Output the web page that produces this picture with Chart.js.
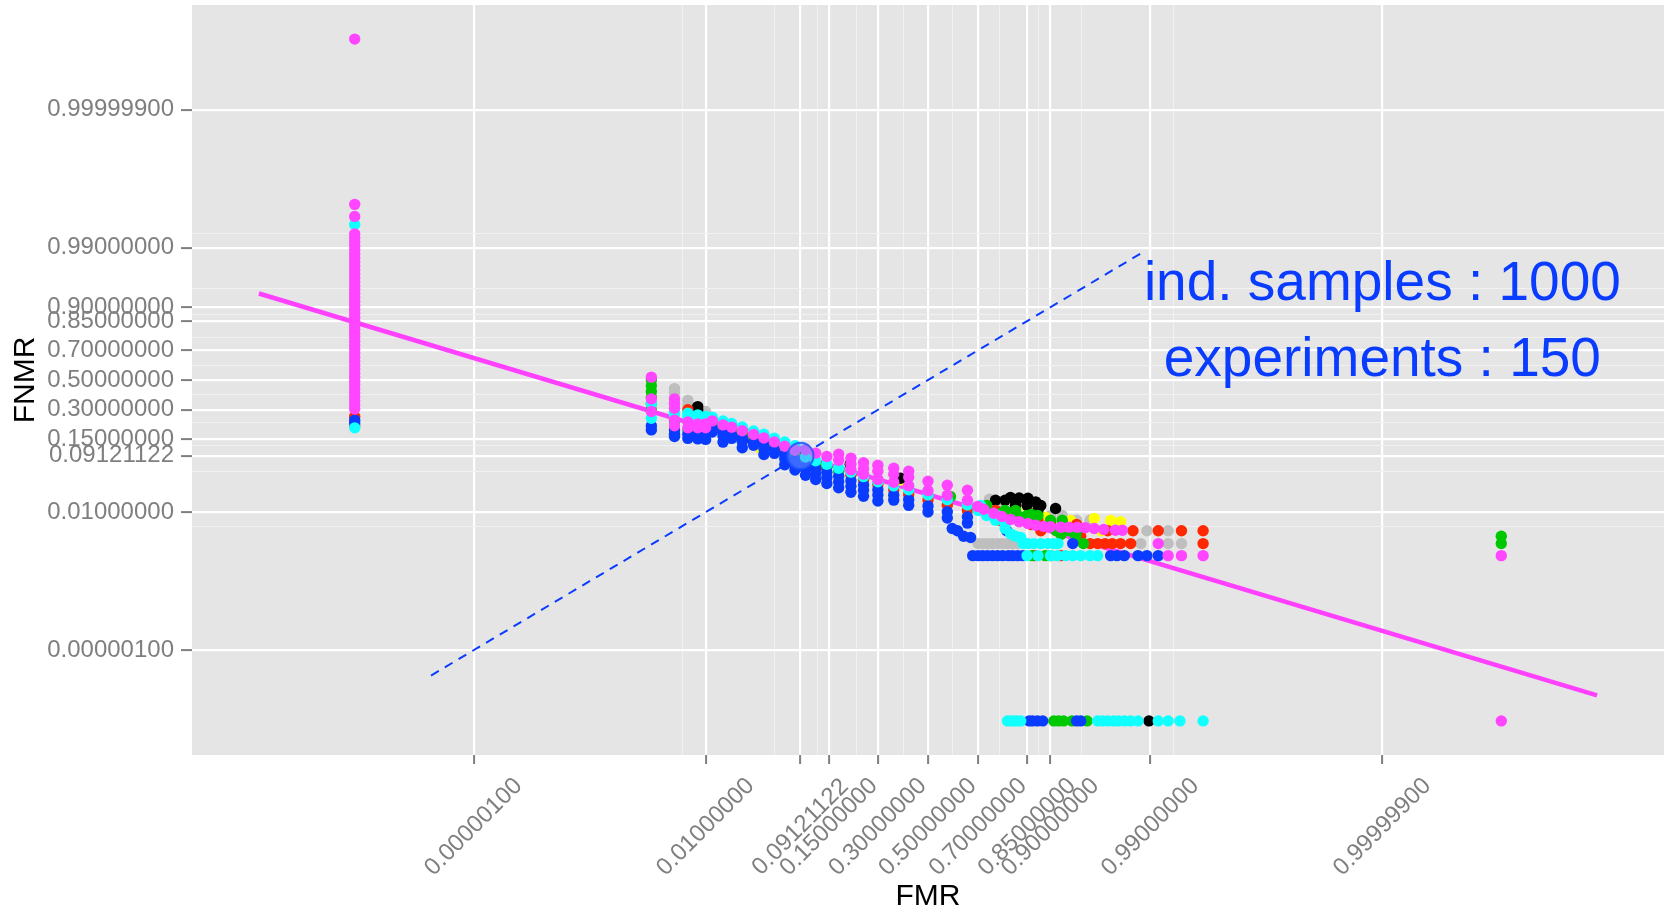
<!DOCTYPE html>
<html>
<head>
<meta charset="utf-8">
<title>DET curve</title>
<script src="https://cdn.jsdelivr.net/npm/chart.js@4.4.1/dist/chart.umd.min.js"></script>
<style>
  body { margin: 0; background: #fff; }
  canvas { display: block; }
</style>
</head>
<body>
<canvas id="det" width="1669" height="911"></canvas>
<script>
// breaks used on both axes, as probabilities
const breaks = [0.000001, 0.01, 0.09121122, 0.15, 0.3, 0.5, 0.7, 0.85, 0.9, 0.99, 0.999999];
// minor grid lines, given on the probit scale
const minorBreaks = [-2.57, -1.61, -1.16, -0.75, -0.26, 0.26, 0.75, 1.16, 1.61, 2.57];

const eer = 0.09121122;
const indSamples = 1000;
const experiments = 150;

// [FMR, FNMR] pairs, one array per colour
const magenta = [
  [0, 1], [0, 0.999], [0, 0.998],
  [0, 0.9949], [0, 0.9938], [0, 0.9925], [0, 0.9909], [0, 0.989], [0, 0.9868], [0, 0.9842],
  [0, 0.9812], [0, 0.9778], [0, 0.9738], [0, 0.9693], [0, 0.9641], [0, 0.9582], [0, 0.9515],
  [0, 0.9441], [0, 0.9357], [0, 0.9265], [0, 0.9162], [0, 0.9049], [0, 0.8925], [0, 0.879],
  [0, 0.8643], [0, 0.8485], [0, 0.8315], [0, 0.8133], [0, 0.7939], [0, 0.7734], [0, 0.7517],
  [0, 0.7291], [0, 0.7054], [0, 0.6808], [0, 0.6554], [0, 0.6293], [0, 0.6026], [0, 0.5753],
  [0, 0.5478], [0, 0.5199], [0, 0.492], [0, 0.4641], [0, 0.4364], [0, 0.409], [0, 0.3821],
  [0, 0.3557], [0, 0.33], [0, 0.305],
  [0.0019, 0.52], [0.0019, 0.37], [0.0019, 0.29], [0.004, 0.37], [0.004, 0.34], [0.004, 0.31],
  [0.004, 0.24], [0.004, 0.21], [0.006, 0.23], [0.006, 0.2], [0.008, 0.22], [0.008, 0.2],
  [0.01, 0.22], [0.01, 0.2],
  [0.012, 0.236], [0.016, 0.215], [0.02, 0.203], [0.026, 0.186], [0.034, 0.169], [0.043, 0.154],
  [0.054, 0.138], [0.067, 0.1218], [0.082, 0.1082],
  [0.1, 0.1098], [0.12, 0.099], [0.145, 0.089], [0.175, 0.0791], [0.21, 0.0695], [0.25, 0.0593],
  [0.3, 0.0542], [0.36, 0.0487], [0.42, 0.0436], [0.5, 0.0375], [0.58, 0.032], [0.66, 0.0262],
  [0.175, 0.0959], [0.21, 0.0847], [0.25, 0.0726], [0.3, 0.0669], [0.36, 0.0603], [0.42, 0.0542],
  [0.21, 0.0574], [0.25, 0.0489], [0.3, 0.0402], [0.36, 0.036], [0.42, 0.0313], [0.5, 0.0258],
  [0.58, 0.0213], [0.66, 0.0172],
  [0.698, 0.0131], [0.72, 0.0115], [0.754, 0.0095], [0.78, 0.0082], [0.806, 0.0071], [0.83, 0.0063],
  [0.852, 0.0058], [0.87, 0.0053], [0.887, 0.005], [0.9, 0.0049], [0.918, 0.0048], [0.93, 0.0048],
  [0.941, 0.0048], [0.95, 0.0047], [0.959, 0.0045], [0.967, 0.0043], [0.975, 0.0041], [0.979, 0.0041],
  [0.992, 0.002], [0.994, 0.001], [0.996, 0.001], [0.998, 0.001], [1, 0.001], [1, 0]
];
const cyan = [
  [0, 0.9969], [0, 0.2],
  [0.0019, 0.34], [0.0019, 0.25], [0.004, 0.29], [0.004, 0.27], [0.006, 0.28], [0.006, 0.26],
  [0.008, 0.27], [0.008, 0.24], [0.01, 0.26], [0.01, 0.24],
  [0.012, 0.257], [0.016, 0.235], [0.02, 0.222], [0.026, 0.204], [0.034, 0.185], [0.043, 0.17],
  [0.054, 0.153], [0.067, 0.1375], [0.082, 0.1237],
  [0.1, 0.0878], [0.12, 0.0777], [0.145, 0.069], [0.175, 0.0604], [0.21, 0.0523], [0.25, 0.0445],
  [0.3, 0.0366], [0.36, 0.0312], [0.42, 0.0267], [0.5, 0.0216], [0.58, 0.0175], [0.66, 0.014],
  [0.7, 0.0109], [0.73, 0.0086], [0.76, 0.0068], [0.79, 0.0055],
  [0.709, 0.0136], [0.767, 0.0085], [0.79, 0.0045], [0.806, 0.0034], [0.82, 0.003], [0.834, 0.0028],
  [0.84, 0.002], [0.852, 0.002], [0.866, 0.002], [0.881, 0.002], [0.895, 0.002], [0.905, 0.002],
  [0.913, 0.002],
  [0.85, 0.001], [0.875, 0.001], [0.9, 0.001], [0.912, 0.001], [0.925, 0.001], [0.935, 0.001],
  [0.945, 0.001], [0.955, 0.001], [0.962, 0.001],
  [0.797, 0], [0.806, 0], [0.815, 0], [0.825, 0], [0.834, 0], [0.962, 0], [0.966, 0], [0.97, 0],
  [0.974, 0], [0.977, 0], [0.98, 0], [0.983, 0], [0.986, 0], [0.992, 0], [0.994, 0], [0.9958, 0],
  [0.998, 0]
];
const blue = [
  [0, 0.24], [0, 0.225],
  [0.0019, 0.21], [0.0019, 0.19], [0.004, 0.19], [0.004, 0.17], [0.004, 0.16], [0.006, 0.17],
  [0.006, 0.152], [0.008, 0.17], [0.008, 0.15], [0.01, 0.17], [0.01, 0.148],
  [0.012, 0.197], [0.016, 0.178], [0.02, 0.167], [0.026, 0.153], [0.034, 0.139], [0.043, 0.1266],
  [0.054, 0.1105], [0.067, 0.0948], [0.082, 0.0812], [0.1, 0.0688], [0.12, 0.0599], [0.145, 0.0523],
  [0.175, 0.045], [0.21, 0.0383], [0.25, 0.0325], [0.3, 0.0267], [0.36, 0.0214], [0.42, 0.0175],
  [0.5, 0.0133], [0.58, 0.0102], [0.66, 0.008],
  [0.012, 0.18], [0.016, 0.162], [0.02, 0.152], [0.026, 0.139], [0.034, 0.1255], [0.043, 0.1141],
  [0.054, 0.0984], [0.067, 0.0832], [0.082, 0.07], [0.1, 0.0582], [0.12, 0.0499], [0.145, 0.0433],
  [0.175, 0.0367], [0.21, 0.0309], [0.25, 0.0262], [0.3, 0.0215], [0.36, 0.0173], [0.42, 0.0137],
  [0.5, 0.0101], [0.58, 0.0076], [0.66, 0.0059],
  [0.016, 0.1372], [0.026, 0.1166], [0.043, 0.0951], [0.067, 0.0681], [0.082, 0.0568], [0.1, 0.047],
  [0.12, 0.04], [0.145, 0.0344], [0.175, 0.029], [0.21, 0.0242], [0.25, 0.0204], [0.3, 0.0166],
  [0.6, 0.0045], [0.621, 0.004], [0.645, 0.003], [0.672, 0.0028],
  [0.68, 0.001], [0.7, 0.001], [0.716, 0.001], [0.733, 0.001], [0.75, 0.001], [0.767, 0.001],
  [0.783, 0.001], [0.8, 0.001], [0.812, 0.001], [0.826, 0.001], [0.839, 0.001], [0.972, 0.001],
  [0.976, 0.001], [0.98, 0.001], [0.986, 0.001], [0.989, 0.001], [0.992, 0.001],
  [0.795, 0.004], [0.935, 0.002],
  [0.855, 0], [0.863, 0], [0.874, 0], [0.885, 0], [0.94, 0], [0.945, 0]
];
const green = [
  [0.0019, 0.5], [0.0019, 0.46], [0.0019, 0.42], [0.0019, 0.38], [0.0019, 0.34], [0.0019, 0.3],
  [0.004, 0.23], [0.006, 0.19],
  [0.012, 0.216], [0.016, 0.196], [0.02, 0.184], [0.026, 0.169], [0.034, 0.153], [0.043, 0.14],
  [0.054, 0.1237], [0.067, 0.1078], [0.082, 0.0939], [0.1, 0.081], [0.12, 0.0711], [0.145, 0.0629],
  [0.175, 0.0547],
  [0.593, 0.0202], [0.727, 0.0131], [0.776, 0.0094], [0.834, 0.008], [0.86, 0.009], [0.918, 0.0033],
  [0.939, 0.003], [0.948, 0.002],
  [0.73, 0.0137], [0.79, 0.0109], [0.82, 0.0109], [0.85, 0.0086], [0.875, 0.0086], [0.9, 0.0068],
  [0.92, 0.0068],
  [0.91, 0.004], [0.92, 0.004], [0.93, 0.004], [0.94, 0.004],
  [0.862, 0.001], [0.89, 0.001], [0.9, 0.001],
  [0.906, 0], [0.914, 0], [0.922, 0], [0.934, 0], [0.952, 0],
  [1, 0.003], [1, 0.002]
];
const red = [
  [0, 0.26], [0, 0.21], [0.006, 0.3],
  [0.014, 0.215], [0.03, 0.17], [0.14, 0.066],
  [0.21, 0.0471], [0.25, 0.04], [0.3, 0.0329], [0.36, 0.0264], [0.42, 0.022], [0.5, 0.0173],
  [0.58, 0.0137], [0.66, 0.0108],
  [0.73, 0.0109], [0.76, 0.0109], [0.79, 0.0086], [0.875, 0.0068], [0.94, 0.0055],
  [0.776, 0.0067], [0.86, 0.0055], [0.881, 0.004], [0.9, 0.006], [0.945, 0.003], [0.97, 0.004],
  [0.984, 0.004], [0.992, 0.004], [0.996, 0.004], [0.998, 0.004],
  [0.955, 0.002], [0.962, 0.002], [0.968, 0.002], [0.973, 0.002], [0.978, 0.002], [0.983, 0.002],
  [0.998, 0.002],
  [0.868, 0.001], [0.918, 0.001]
];
const black = [
  [0.008, 0.32], [0.008, 0.3],
  [0.031, 0.157], [0.091, 0.102], [0.208, 0.069], [0.387, 0.042],
  [0.76, 0.0172], [0.79, 0.0172], [0.806, 0.0194], [0.82, 0.0137], [0.83, 0.019], [0.852, 0.0188],
  [0.85, 0.0137], [0.87, 0.016], [0.875, 0.0109], [0.881, 0.0136], [0.909, 0.0119],
  [0.9896, 0]
];
const yellow = [
  [0.04, 0.115], [0.387, 0.039], [0.85, 0.013], [0.891, 0.0078], [0.932, 0.0067], [0.959, 0.0074],
  [0.972, 0.0067], [0.978, 0.0063], [0.965, 0.004]
];
const grey = [
  [0.004, 0.44], [0.004, 0.41], [0.006, 0.36], [0.006, 0.33], [0.01, 0.29],
  [0.04, 0.145], [0.208, 0.056], [0.74, 0.018], [0.776, 0.0136], [0.82, 0.012], [0.86, 0.011],
  [0.76, 0.0137], [0.9, 0.0086], [0.92, 0.0086], [0.94, 0.0068], [0.955, 0.0068],
  [0.918, 0.0067], [0.941, 0.0048],
  [0.7, 0.002], [0.717, 0.002], [0.734, 0.002], [0.75, 0.002], [0.767, 0.002], [0.782, 0.002],
  [0.797, 0.002], [0.812, 0.002], [0.826, 0.002], [0.987, 0.002], [0.994, 0.002], [0.996, 0.002],
  [0.989, 0.004], [0.994, 0.004]
];

// fitted line and the FMR = FNMR diagonal
const fitFmr = [1.28e-12, 0.99999999999872];
const fitFnmr = [0.936, 1.43e-8];
const diagRate = [1e-7, 0.988];

// inverse normal CDF (Acklam)
function qnorm(p) {
  const a = [-3.969683028665376e+01, 2.209460984245205e+02, -2.759285104469687e+02,
             1.383577518672690e+02, -3.066479806614716e+01, 2.506628277459239e+00];
  const b = [-5.447609879822406e+01, 1.615858368580409e+02, -1.556989798598866e+02,
             6.680131188771972e+01, -1.328068155288572e+01];
  const c = [-7.784894002430293e-03, -3.223964580411365e-01, -2.400758277161838e+00,
             -2.549732539343734e+00, 4.374664141464968e+00, 2.938163982698783e+00];
  const d = [7.784695709041462e-03, 3.224671290700398e-01, 2.445134137142996e+00,
             3.754408661907416e+00];
  const plow = 0.02425;
  if (p < plow) {
    const q = Math.sqrt(-2 * Math.log(p));
    return (((((c[0]*q + c[1])*q + c[2])*q + c[3])*q + c[4])*q + c[5]) /
           ((((d[0]*q + d[1])*q + d[2])*q + d[3])*q + 1);
  }
  if (p > 1 - plow) {
    const q = Math.sqrt(-2 * Math.log(1 - p));
    return -(((((c[0]*q + c[1])*q + c[2])*q + c[3])*q + c[4])*q + c[5]) /
            ((((d[0]*q + d[1])*q + d[2])*q + d[3])*q + 1);
  }
  const q = p - 0.5, r = q * q;
  return (((((a[0]*r + a[1])*r + a[2])*r + a[3])*r + a[4])*r + a[5]) * q /
         (((((b[0]*r + b[1])*r + b[2])*r + b[3])*r + b[4])*r + 1);
}

// zero and one rates are pushed to 1e-9 so they stay on the plot
const EPS = 1e-9;
function probit(p) {
  if (p <= 0) p = EPS;
  if (p >= 1) p = 1 - EPS;
  return qnorm(p);
}

const toPoints = pairs => pairs.map(([f, n]) => ({ x: probit(f), y: probit(n) }));

const series = [
  { data: magenta, color: '#ff45ff' },
  { data: cyan, color: '#10ffff' },
  { data: blue, color: '#0a3cff' },
  { data: green, color: '#00c800' },
  { data: red, color: '#ff2800' },
  { data: black, color: '#000000' },
  { data: yellow, color: '#ffff00' },
  { data: grey, color: '#bebebe' }
];

const fitLine = fitFmr.map((f, i) => ({ x: probit(f), y: probit(fitFnmr[i]) }));
const diagLine = diagRate.map(r => ({ x: probit(r), y: probit(r) }));

// axis limits: data range plus 5% on each side
function limits(vals) {
  const lo = Math.min(...vals), hi = Math.max(...vals);
  const pad = (hi - lo) * 0.05;
  return [lo - pad, hi + pad];
}
const allPts = series.flatMap(s => toPoints(s.data)).concat(fitLine, diagLine);
const [xMin, xMax] = limits(allPts.map(p => p.x));
const [yMin, yMax] = limits(allPts.map(p => p.y));

function buildTicks() {
  const major = breaks.map(b => ({ value: probit(b), text: b.toFixed(8) }));
  const minor = minorBreaks.map(v => ({ value: v, text: '', minor: true }));
  return minor.concat(major);
}

const gridStyle = (tickLength) => ({
  color: ctx => (ctx.tick && ctx.tick.minor) ? '#f1f1f1' : '#ffffff',
  lineWidth: ctx => (ctx.tick && ctx.tick.minor) ? 1 : 2.2,
  tickColor: ctx => (ctx.tick && ctx.tick.minor) ? 'rgba(0,0,0,0)' : '#7f7f7f',
  tickWidth: 2,
  tickLength: tickLength
});

const FONT = '"Liberation Sans", Arial, Helvetica, sans-serif';

const panelPlugin = {
  id: 'panel',
  beforeDraw(chart) {
    const { ctx, chartArea: a } = chart;
    ctx.save();
    ctx.fillStyle = '#ffffff';
    ctx.fillRect(0, 0, chart.width, chart.height);
    ctx.fillStyle = '#e5e5e5';
    ctx.fillRect(a.left, a.top, a.right - a.left, a.bottom - a.top);
    ctx.restore();
  },
  afterDraw(chart) {
    const { ctx, chartArea: a } = chart;
    const xs = chart.scales.x;
    ctx.save();

    // rotated FMR tick labels
    ctx.font = '24px ' + FONT;
    ctx.fillStyle = '#7f7f7f';
    ctx.textAlign = 'center';
    ctx.textBaseline = 'middle';
    breaks.forEach(b => {
      const px = xs.getPixelForValue(probit(b));
      ctx.save();
      ctx.translate(px, 827);
      ctx.rotate(-Math.PI / 4);
      ctx.fillText(b.toFixed(8), 0, 0);
      ctx.restore();
    });

    // axis titles
    ctx.fillStyle = '#000000';
    ctx.font = '30px ' + FONT;
    ctx.fillText('FMR', (a.left + a.right) / 2, 897);
    ctx.save();
    ctx.translate(26, (a.top + a.bottom) / 2);
    ctx.rotate(-Math.PI / 2);
    ctx.fillText('FNMR', 0, 0);
    ctx.restore();

    // run summary
    const tx = xs.getPixelForValue(probit(0.999999));
    ctx.fillStyle = '#0a3cff';
    ctx.font = '55px ' + FONT;
    ctx.textBaseline = 'alphabetic';
    ctx.fillText('ind. samples : ' + indSamples, tx, 300);
    ctx.fillText('experiments : ' + experiments, tx, 376);
    ctx.restore();
  }
};

const datasets = [
  {
    data: [{ x: probit(eer), y: probit(eer) }],
    pointRadius: 13,
    pointBackgroundColor: 'rgba(110, 150, 255, 0.5)',
    pointBorderColor: 'rgba(30, 90, 255, 0.9)',
    pointBorderWidth: 2
  }
].concat(series.map(s => ({
  data: toPoints(s.data),
  pointRadius: 5.7,
  pointBackgroundColor: s.color,
  pointBorderWidth: 0,
  borderColor: s.color
}))).concat([
  {
    data: fitLine,
    showLine: true,
    borderColor: '#ff40ff',
    borderWidth: 4.5,
    pointRadius: 0
  },
  {
    data: diagLine,
    showLine: true,
    borderColor: '#0a3cff',
    borderWidth: 2,
    borderDash: [9, 7],
    pointRadius: 0
  }
]);

new Chart(document.getElementById('det'), {
  type: 'scatter',
  data: { datasets: datasets },
  plugins: [panelPlugin],
  options: {
    responsive: false,
    animation: false,
    events: [],
    devicePixelRatio: 1,
    layout: { autoPadding: false, padding: { top: 5, right: 5, left: 0, bottom: 0 } },
    plugins: { legend: { display: false }, tooltip: { enabled: false } },
    scales: {
      x: {
        type: 'linear',
        min: xMin,
        max: xMax,
        border: { display: false },
        grid: gridStyle(9),
        ticks: { display: false, autoSkip: false },
        afterBuildTicks: scale => { scale.ticks = buildTicks(); },
        afterFit: scale => { scale.height = 156; scale.paddingLeft = 0; scale.paddingRight = 0; }
      },
      y: {
        type: 'linear',
        min: yMin,
        max: yMax,
        border: { display: false },
        grid: gridStyle(11),
        ticks: {
          autoSkip: false,
          color: '#7f7f7f',
          padding: 7,
          font: { family: FONT, size: 24 },
          callback: (value, index, ticks) => ticks[index].text || ''
        },
        afterBuildTicks: scale => { scale.ticks = buildTicks(); },
        afterFit: scale => { scale.width = 192; scale.paddingTop = 0; scale.paddingBottom = 0; }
      }
    }
  }
});
</script>
</body>
</html>
